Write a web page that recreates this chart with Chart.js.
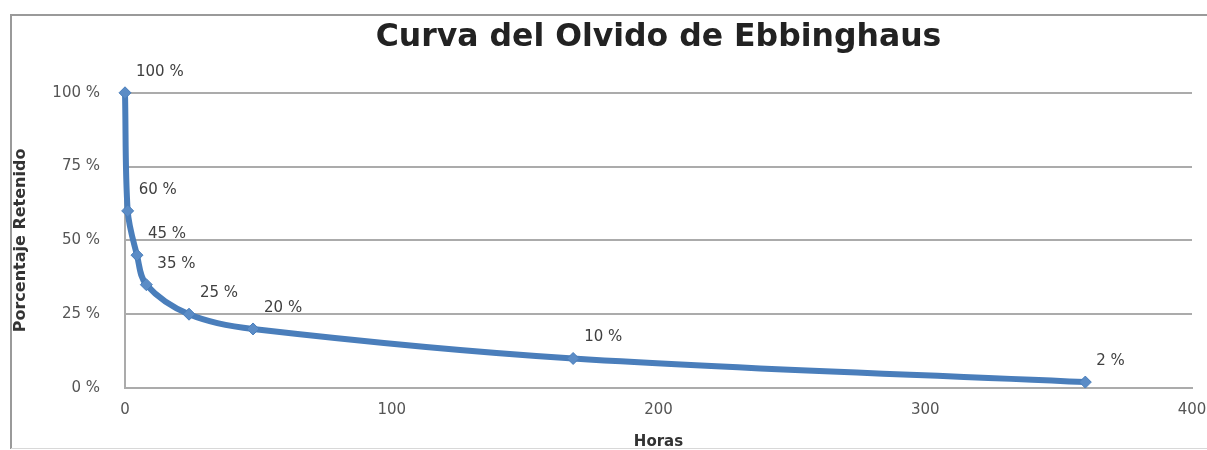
<!DOCTYPE html>
<html>
<head>
<meta charset="utf-8">
<script src="https://cdn.jsdelivr.net/npm/chart.js@4/dist/chart.umd.min.js"></script>
<style>
  html, body { margin: 0; padding: 0; background: #ffffff; }
  #wrap { width: 1207px; height: 450px; position: relative; }
</style>
</head>
<body>
<div id="wrap"><canvas id="chart" width="1207" height="450"></canvas></div>
<script>
// Retention measured after each interval (hours -> percent retained)
const hours    = [0, 1, 4.5, 8, 24, 48, 168, 360];
const retained = [100, 60, 45, 35, 25, 20, 10, 2];
const xTicks   = [0, 100, 200, 300, 400];
const yTicks   = [0, 25, 50, 75, 100];

const chartTitle = 'Curva del Olvido de Ebbinghaus';
const xTitle = 'Horas';
const yTitle = 'Porcentaje Retenido';

const FONT = "'DejaVu Sans', Verdana, sans-serif";
const LINE = '#4a7ebb';
const GRID = '#ababab';

const points = hours.map((h, i) => ({ x: h, y: retained[i] }));

// Value labels next to every point
const valueLabels = {
  id: 'valueLabels',
  afterDatasetsDraw(chart) {
    const { ctx } = chart;
    const meta = chart.getDatasetMeta(0);
    ctx.save();
    ctx.font = '15px ' + FONT;
    ctx.fillStyle = '#404040';
    ctx.textAlign = 'left';
    ctx.textBaseline = 'middle';
    meta.data.forEach((pt, i) => {
      const v = chart.data.datasets[0].data[i].y;
      ctx.fillText(v + ' %', pt.x + 11, pt.y - 21);
    });
    ctx.restore();
  }
};

// Outer chart frame
const frame = {
  id: 'frame',
  beforeDraw(chart) {
    const { ctx } = chart;
    ctx.save();
    ctx.strokeStyle = '#9a9a9a';
    ctx.lineWidth = 2;
    ctx.beginPath();
    ctx.moveTo(11, 449);
    ctx.lineTo(11, 15);
    ctx.lineTo(1207, 15);
    ctx.stroke();
    ctx.strokeStyle = '#d8d8d8';
    ctx.lineWidth = 1;
    ctx.beginPath();
    ctx.moveTo(11, 448.5);
    ctx.lineTo(1207, 448.5);
    ctx.stroke();
    ctx.restore();
  }
};

new Chart(document.getElementById('chart'), {
  type: 'line',
  data: {
    datasets: [{
      data: points,
      borderColor: LINE,
      backgroundColor: LINE,
      borderWidth: 6,
      tension: 0.35,
      pointStyle: 'rectRot',
      pointRadius: 6,
      pointBackgroundColor: '#5b8cc6',
      pointBorderColor: LINE,
      pointBorderWidth: 1,
      fill: false,
      clip: false
    }]
  },
  options: {
    responsive: false,
    animation: false,
    layout: { padding: { left: 0, right: 15, top: 0, bottom: 0 } },
    plugins: {
      legend: { display: false },
      tooltip: { enabled: false },
      title: {
        display: true,
        text: chartTitle,
        fullSize: false,
        color: '#222222',
        font: { family: FONT, size: 31.5, weight: 'bold' },
        padding: { top: 19, bottom: 36 }
      }
    },
    scales: {
      x: {
        type: 'linear',
        min: xTicks[0],
        max: xTicks[xTicks.length - 1],
        afterFit: s => { s.height = 62; s.paddingLeft = 0; s.paddingRight = 0; },
        afterBuildTicks: s => { s.ticks = xTicks.map(v => ({ value: v })); },
        grid: { display: false, drawTicks: false },
        border: { display: true, color: GRID, width: 2 },
        ticks: {
          color: '#555555',
          font: { family: FONT, size: 15 },
          padding: 13,
          maxRotation: 0
        },
        title: {
          display: true,
          text: xTitle,
          color: '#333333',
          font: { family: FONT, size: 15, weight: 'bold', lineHeight: 1 },
          padding: { top: 0, bottom: 0 }
        }
      },
      y: {
        min: yTicks[0],
        max: yTicks[yTicks.length - 1],
        afterFit: s => { s.width = 125; },
        afterBuildTicks: s => { s.ticks = yTicks.map(v => ({ value: v })); },
        grid: { color: GRID, lineWidth: 2, drawTicks: false },
        border: { display: true, color: GRID, width: 2 },
        ticks: {
          color: '#555555',
          font: { family: FONT, size: 15 },
          padding: 25,
          callback: v => v + ' %'
        },
        title: {
          display: true,
          text: yTitle,
          color: '#333333',
          font: { family: FONT, size: 16, weight: 'bold' },
          padding: { top: 11, bottom: 0 }
        }
      }
    }
  },
  plugins: [frame, valueLabels]
});
</script>
</body>
</html>
